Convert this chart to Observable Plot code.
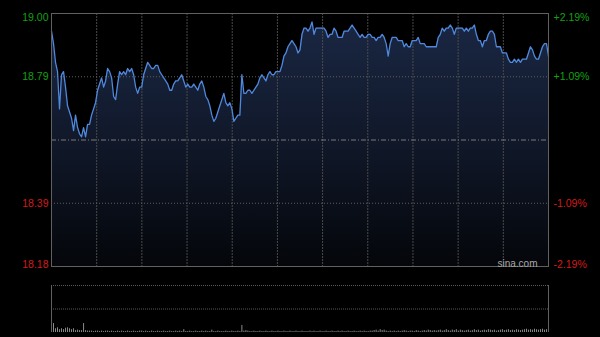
<!DOCTYPE html>
<html><head><meta charset="utf-8">
<script src="https://cdn.jsdelivr.net/npm/d3@7"></script>
<script src="https://cdn.jsdelivr.net/npm/@observablehq/plot@0.6"></script>
<style>
html,body{margin:0;padding:0;background:#000;width:600px;height:337px;overflow:hidden}
#chart svg{display:block}
</style></head><body><div id="chart"></div>
<script>
const prevClose = 18.59;
const priceTop = 18.997, priceBottom = 18.183;
const priceTicks = [18.997, 18.7935, 18.3865, 18.183];
const priceLabels = ["19.00", "18.79", "18.39", "18.18"];
const pctLabels = ["+2.19%", "+1.09%", "-1.09%", "-2.19%"];
const watermark = "sina.com";

const prices = [
  18.94,18.90,18.84,18.81,18.69,18.80,18.81,18.76,18.70,18.68,
  18.66,18.62,18.67,18.63,18.61,18.60,18.63,18.60,18.64,18.64,
  18.67,18.69,18.71,18.75,18.77,18.79,18.76,18.78,18.82,18.81,
  18.79,18.73,18.72,18.77,18.81,18.80,18.81,18.80,18.82,18.81,
  18.82,18.80,18.76,18.74,18.76,18.76,18.80,18.82,18.84,18.83,
  18.82,18.82,18.83,18.83,18.81,18.80,18.79,18.78,18.77,18.75,
  18.75,18.77,18.78,18.78,18.79,18.80,18.78,18.76,18.77,18.76,
  18.76,18.77,18.76,18.75,18.77,18.78,18.76,18.73,18.72,18.70,
  18.67,18.65,18.66,18.68,18.70,18.72,18.74,18.71,18.70,18.71,
  18.69,18.65,18.66,18.67,18.67,18.80,18.74,18.74,18.75,18.75,
  18.74,18.75,18.76,18.77,18.79,18.80,18.79,18.78,18.80,18.81,
  18.80,18.80,18.81,18.81,18.81,18.83,18.86,18.87,18.89,18.90,
  18.91,18.90,18.89,18.87,18.88,18.93,18.95,18.95,18.94,18.95,
  18.97,18.93,18.95,18.95,18.95,18.95,18.95,18.94,18.92,18.93,
  18.93,18.95,18.94,18.92,18.92,18.92,18.94,18.94,18.94,18.95,
  18.96,18.95,18.94,18.93,18.92,18.93,18.92,18.92,18.93,18.93,
  18.92,18.92,18.91,18.92,18.92,18.93,18.92,18.90,18.86,18.90,
  18.92,18.92,18.92,18.91,18.91,18.91,18.89,18.90,18.89,18.89,
  18.91,18.91,18.91,18.92,18.90,18.90,18.90,18.89,18.89,18.89,
  18.89,18.89,18.89,18.92,18.93,18.95,18.94,18.95,18.95,18.96,
  18.95,18.93,18.95,18.95,18.95,18.95,18.94,18.95,18.94,18.95,
  18.95,18.96,18.93,18.91,18.91,18.89,18.91,18.91,18.93,18.94,
  18.94,18.93,18.89,18.89,18.89,18.87,18.87,18.87,18.85,18.84,
  18.84,18.85,18.84,18.85,18.84,18.85,18.85,18.85,18.87,18.89,
  18.88,18.86,18.85,18.85,18.87,18.89,18.90,18.90,18.86
];

const volumes = [
  36,19,8,10,6,8,6,9,10,8,
  6,8,4,5,4,4,19,4,3,3,
  3,2,3,3,2,3,2,3,3,2,
  3,2,2,3,2,3,2,2,3,2,
  2,3,2,2,3,3,2,3,2,2,
  3,2,2,3,2,2,3,2,2,3,
  2,2,3,2,3,2,6,2,2,3,
  2,2,3,2,2,3,2,3,2,2,
  5,2,2,3,2,2,2,3,2,2,
  3,2,2,3,2,15,3,4,3,2,
  2,3,2,2,3,2,2,3,2,2,
  3,2,2,3,2,2,3,2,2,3,
  2,2,3,2,2,3,2,2,2,3,
  2,3,2,2,3,2,2,3,2,2,
  3,2,2,3,2,3,2,2,3,2,
  2,3,2,2,3,2,3,2,2,3,
  3,4,5,3,6,4,5,3,2,3,
  2,3,2,3,2,3,4,3,2,3,
  3,2,4,3,2,3,4,3,5,4,
  3,4,3,4,5,3,4,6,4,3,
  5,4,6,3,5,4,3,4,5,3,
  4,6,4,5,3,4,5,4,6,5,
  4,5,3,4,5,6,4,5,6,4,
  5,4,6,5,4,5,6,7,5,6,
  5,7,6,5,6,7,5,6,8
];

const n = prices.length;
const xDomain = [0, n - 1];
const gridX = d3.range(1, 11).map(k => k * (n - 1) / 11);
const data = prices.map((p, i) => ({i, p, base: priceBottom}));
const volData = volumes.map((v, i) => ({i, v, zero: 0}));
const rows = priceTicks.map((v, k) => ({v, price: priceLabels[k], pct: pctLabels[k], color: v > prevClose ? "#13a013" : "#d41a1a"}));

const font = "'Liberation Sans', Arial, sans-serif";
const labelMarks = [];
[[rows.slice(0,1), "top", 0], [rows.slice(1,3), "middle", 0], [rows.slice(3), "bottom", 1]].forEach(([rs, anchor, dy]) => {
  labelMarks.push(Plot.text(rs, {y: "v", text: "price", fill: d => d.color, frameAnchor: "left", textAnchor: "end", lineAnchor: anchor, dx: -3, dy, fontSize: 10.5}));
  labelMarks.push(Plot.text(rs, {y: "v", text: "pct", fill: d => d.color, frameAnchor: "right", textAnchor: "start", lineAnchor: anchor, dx: 5, dy, fontSize: 10.5}));
});

const main = Plot.plot({
  width: 600, height: 276,
  marginTop: 13, marginBottom: 10, marginLeft: 51, marginRight: 52,
  style: {background: "#000", fontFamily: font, color: "#ccc"},
  x: {domain: xDomain, axis: null},
  y: {domain: [priceBottom, priceTop], axis: null},
  marks: [
    Plot.areaY(data, {x: "i", y1: "base", y2: "p", fill: "url(#areaGrad)"}),
    Plot.ruleX(gridX, {stroke: "#4a4a4a", strokeDasharray: "2,1"}),
    Plot.ruleY([priceTicks[1], priceTicks[2]], {stroke: "#5c5c5c", strokeDasharray: "1,2"}),
    Plot.ruleY([prevClose], {stroke: "#7a7a7a", strokeDasharray: "5,2,1,2"}),
    Plot.lineY(data, {x: "i", y: "p", stroke: "#4f88dc", strokeWidth: 1.3}),
    Plot.frame({stroke: "#606060"}),
    Plot.text([watermark], {text: d => d, frameAnchor: "bottom-right", textAnchor: "end", lineAnchor: "bottom", dx: -11, dy: 0, fill: "#a8a8a8", fontSize: 10}),
    ...labelMarks
  ]
});

const svg = d3.select(main);
const grad = svg.insert("defs", ":first-child").append("linearGradient")
  .attr("id", "areaGrad").attr("x1", 0).attr("y1", 0).attr("x2", 0).attr("y2", 1);
grad.append("stop").attr("offset", "0%").attr("stop-color", "#1a2743");
grad.append("stop").attr("offset", "55%").attr("stop-color", "#0f1626");
grad.append("stop").attr("offset", "100%").attr("stop-color", "#04060a");

const vol = Plot.plot({
  width: 600, height: 61,
  marginTop: 9, marginBottom: 5, marginLeft: 51, marginRight: 52,
  style: {background: "#000"},
  x: {domain: xDomain, axis: null},
  y: {domain: [0, 100], axis: null},
  marks: [
    Plot.ruleY([100, 50], {stroke: "#5a5a5a", strokeDasharray: "1,1"}),
    Plot.ruleX(volData, {x: "i", y1: "zero", y2: "v", stroke: "#8a8a8a"}),
    Plot.ruleX(xDomain, {stroke: "#606060"})
  ]
});

const root = document.getElementById("chart");
root.appendChild(main);
root.appendChild(vol);
</script></body></html>
